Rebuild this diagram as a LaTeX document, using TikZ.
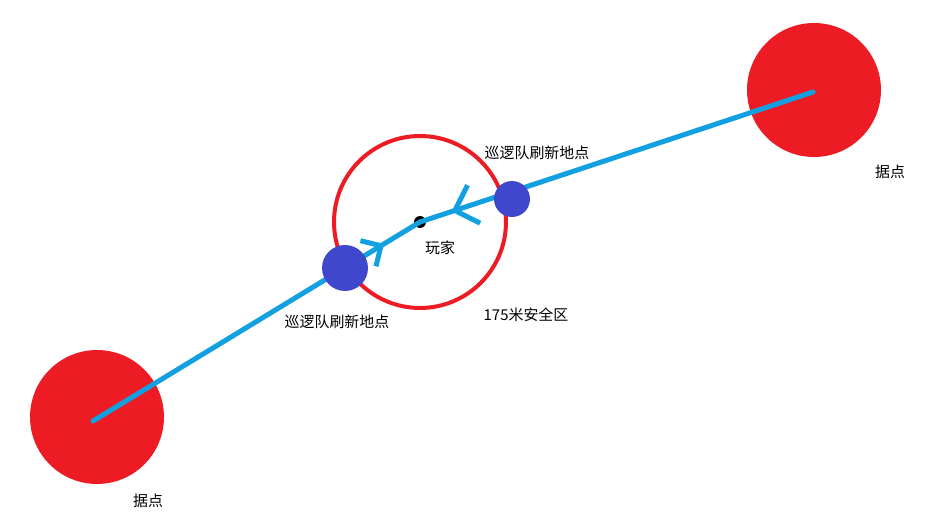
\documentclass[tikz,border=0pt]{standalone}
\usepackage{fontspec}
\setmainfont{Noto Sans CJK SC}
\usetikzlibrary{arrows.meta,positioning,decorations.markings}
\definecolor{paintred}{RGB}{237,28,36}
\definecolor{paintblue}{RGB}{63,72,204}
\definecolor{routeblue}{RGB}{18,160,225}

\begin{document}
\begin{tikzpicture}[x=0.02cm, y=-0.02cm,
    base/.style={circle, fill=paintred, minimum size=2.68cm, inner sep=0pt},
    spawn/.style={circle, fill=paintblue, inner sep=0pt},
    label/.style={font=\fontsize{8.5pt}{10pt}\selectfont, inner sep=0pt},
    route/.style={routeblue, line width=0.1cm, line cap=round, line join=round},
    arrowmark/.style 2 args={postaction={decorate}, decoration={markings,
        mark=at position #1 with {\arrow{Straight Barb[length=#2, width=2*#2]}}}}]
        \useasboundingbox (0,0) rectangle (951,530);

        \node[base] (baseR) at (814,90) {};
        \node[base] (baseL) at (97,417) {};
        \node[circle, draw=paintred, line width=0.08cm, minimum size=3.44cm, inner sep=0pt] (zone) at (420,222) {};
        \node[circle, fill=black, minimum size=0.24cm, inner sep=0pt] (player) at (420,222) {};
        \coordinate (endR) at (813,92);
        \coordinate (endL) at (93,421);

        \draw[route, arrowmark={0.89}{0.3cm}] (endL) -- (player.center);
        \draw[route, arrowmark={0.92}{0.4cm}] (endR) -- (player.center);

        \node[spawn, minimum size=0.92cm] (spawnL) at (345,268) {};
        \node[spawn, minimum size=0.72cm] (spawnR) at (512,199) {};

        \node[label] (baseRtext) at (890,172) {据点};
        \node[label] (baseLtext) at (148,501) {据点};
        \node[label] (spawnRtext) at (537,153) {巡逻队刷新地点};
        \node[label] (spawnLtext) at (337,322) {巡逻队刷新地点};
        \node[label] (playertext) at (440,248) {玩家};
        \node[label] (zonetext) at (526,315) {175米安全区};
      \end{tikzpicture}
\end{document}
